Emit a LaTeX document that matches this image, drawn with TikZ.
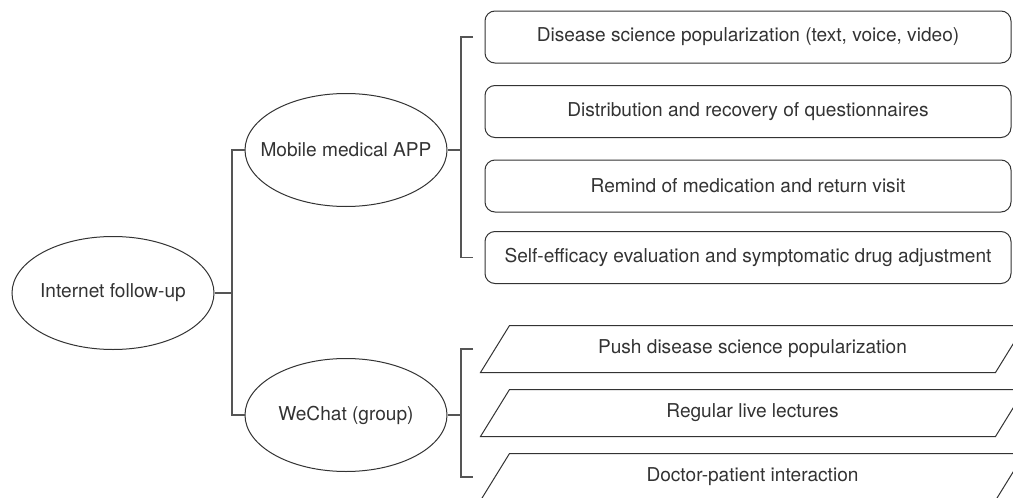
\documentclass[tikz,border=0pt]{standalone}
\usepackage{fontspec}
\setmainfont{TeX Gyre Heros}
\usetikzlibrary{shapes.geometric}

\definecolor{inkgray}{HTML}{333333}
\definecolor{linegray}{HTML}{555555}

\tikzset{
  topic/.style={draw=inkgray, ellipse, minimum width=202pt, minimum height=113pt, inner sep=0pt},
  appbox/.style={draw=inkgray, rectangle, rounded corners=10pt, minimum width=526pt, minimum height=52pt},
  chatbox/.style={rectangle, minimum width=543pt, minimum height=46pt},
  link/.style={draw=linegray, line width=1.2pt}
}

\begin{document}
\begin{tikzpicture}[x=1pt, y=-1pt, line width=1pt, font=\fontsize{19.1}{23}\selectfont, text=inkgray]
	\clip (0,0) rectangle (1013,498);
	% Ellipses
	\node[topic] (internet) at (113,293) {\makebox[0pt]{Internet follow-up}};
	\node[topic] (app) at (346,150) {\makebox[0pt]{Mobile medical APP}};
	\node[topic] (wechat) at (346,415) {\makebox[0pt]{WeChat (group)}};
	% APP functions
	\node[appbox] (popular) at (748,37) {Disease science popularization (text, voice, video)};
	\node[appbox] (survey) at (748,111.5) {Distribution and recovery of questionnaires};
	\node[appbox] (remind) at (748,186) {Remind of medication and return visit};
	\node[appbox] (efficacy) at (748,257.5) {Self-efficacy evaluation and symptomatic drug adjustment};
	% WeChat functions
	\node[chatbox] (push) at (752.5,349) {Push disease science popularization};
	\node[chatbox] (lecture) at (752.5,413) {Regular live lectures};
	\node[chatbox] (interact) at (752.5,477) {Doctor-patient interaction};
	\foreach \p in {push,lecture,interact}
		\draw[inkgray] (\p.south west) -- ([xshift=29pt]\p.north west) -- (\p.north east) -- ([xshift=-29pt]\p.south east) -- cycle;
	% Brackets
	\coordinate (trunk) at (232,293);
	\coordinate (appfork) at (461,150);
	\coordinate (chatfork) at (461,415);
	\draw[link] (internet) -- (trunk);
	\draw[link] (app.west) -| (trunk) |- (wechat.west);
	\draw[link] (app) -- (appfork);
	\draw[link] ([xshift=12pt]appfork |- popular) -- (appfork |- popular) -- (appfork |- efficacy) -- ++(12,0);
	\draw[link] (wechat) -- (chatfork);
	\draw[link] ([xshift=12pt]chatfork |- push) -- (chatfork |- push) -- (chatfork |- interact) -- ++(12,0);
\end{tikzpicture}
\end{document}
